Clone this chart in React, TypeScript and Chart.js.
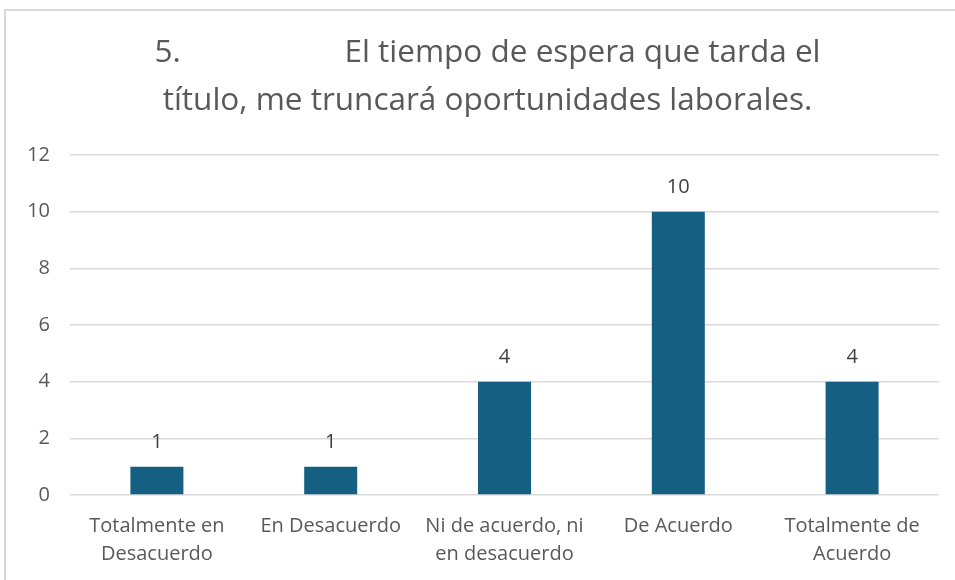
import React, { useEffect, useRef } from "react";
import { Chart, registerables } from "chart.js";

Chart.register(...registerables);

const titleLines = [
  "5.                    El tiempo de espera que tarda el",
  "título, me truncará oportunidades laborales.",
];
const categories = [
  ["Totalmente en", "Desacuerdo"],
  "En Desacuerdo",
  ["Ni de acuerdo, ni", "en desacuerdo"],
  "De Acuerdo",
  ["Totalmente de", "Acuerdo"],
];
const values = [1, 1, 4, 10, 4];
const yMax = 12;
const yStep = 2;

const FONT = "'Open Sans', 'Liberation Sans', Arial, sans-serif";

const borderPlugin = {
  id: "outerBorder",
  beforeDraw(chart: any) {
    const ctx = chart.ctx;
    ctx.save();
    ctx.fillStyle = "#ffffff";
    ctx.fillRect(0, 0, chart.width, chart.height);
    ctx.strokeStyle = "#d9d9d9";
    ctx.lineWidth = 2;
    ctx.strokeRect(5, 10, chart.width + 20, chart.height + 20);
    ctx.restore();
  },
};

const dataLabelPlugin = {
  id: "dataLabels",
  afterDatasetsDraw(chart: any) {
    const ctx = chart.ctx;
    ctx.save();
    ctx.font = `20px ${FONT}`;
    ctx.fillStyle = "#404040";
    ctx.textAlign = "center";
    ctx.textBaseline = "middle";
    chart.getDatasetMeta(0).data.forEach((bar: any, i: number) => {
      const v = chart.data.datasets[0].data[i];
      ctx.fillText(String(v), bar.x, bar.y - 24);
    });
    ctx.restore();
  },
};

export default function App() {
  const ref = useRef<HTMLCanvasElement>(null);
  useEffect(() => {
    if (!ref.current) return;
    const chart = new Chart(ref.current, {
      type: "bar",
      data: {
        labels: categories as any,
        datasets: [
          {
            data: values,
            backgroundColor: "#156082",
            categoryPercentage: 1,
            barPercentage: 0.305,
          },
        ],
      },
      options: {
        responsive: false,
        animation: false,
        layout: { padding: { left: 0, right: 0, top: 0, bottom: 0 } },
        plugins: {
          legend: { display: false },
          tooltip: { enabled: false },
          title: {
            display: true,
            text: titleLines,
            color: "#595959",
            font: { family: FONT, size: 31.5, weight: "normal", lineHeight: 1.524 },
            padding: { top: 29, bottom: 30 },
          },
        },
        scales: {
          x: {
            grid: { display: false, drawTicks: false },
            border: { display: false },
            ticks: {
              color: "#595959",
              font: { family: FONT, size: 20, lineHeight: 1.4 },
              padding: 17,
              maxRotation: 0,
              autoSkip: false,
            },
            afterFit(scale: any) {
              scale.height = 85;
            },
          },
          y: {
            min: 0,
            max: yMax,
            ticks: {
              stepSize: yStep,
              color: "#595959",
              font: { family: FONT, size: 20 },
              padding: 20,
            },
            grid: { color: "#d9d9d9", lineWidth: 1.5, drawTicks: false },
            border: { display: false },
            afterFit(scale: any) {
              scale.width = 70;
            },
          },
          spacer: {
            type: "linear",
            axis: "y",
            position: "right",
            display: true,
            min: 0,
            max: yMax,
            grid: { display: false, drawTicks: false },
            border: { display: false },
            ticks: { display: false },
            afterFit(scale: any) {
              scale.width = 36;
            },
          },
        },
      },
      plugins: [borderPlugin, dataLabelPlugin],
    });
    return () => chart.destroy();
  }, []);
  return (
    <div
      style={{
        position: "fixed",
        left: 0,
        top: 0,
        width: 955,
        height: 580,
        overflow: "hidden",
      }}
    >
      <canvas ref={ref} width={975} height={580} style={{ display: "block" }} />
    </div>
  );
}
